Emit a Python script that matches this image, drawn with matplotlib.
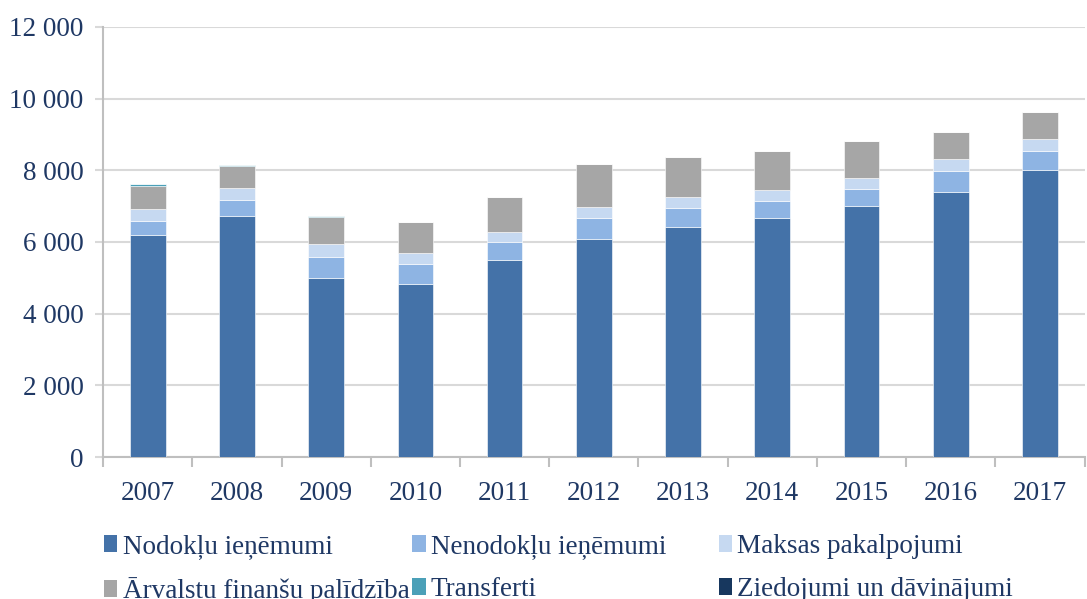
import matplotlib
matplotlib.use("Agg")
import matplotlib.pyplot as plt
import numpy as np
from matplotlib.ticker import FuncFormatter, FixedLocator
from matplotlib.patches import Patch

years = ["2007", "2008", "2009", "2010", "2011", "2012", "2013", "2014", "2015", "2016", "2017"]
nodoklu = [6195, 6734, 4995, 4836, 5498, 6084, 6427, 6678, 7005, 7404, 8009]
nenodoklu = [391, 429, 595, 542, 494, 577, 522, 466, 474, 577, 531]
maksas = [327, 335, 363, 307, 287, 307, 298, 307, 315, 335, 334]
arvalstu = [658, 614, 753, 860, 968, 1200, 1125, 1089, 1025, 754, 754]
transferti = [40, 30, 15, 10, 5, 8, 5, 5, 5, 8, 5]
ziedojumi = [10, 8, 5, 5, 3, 3, 3, 3, 3, 3, 3]

series = [
    ("Nodokļu ieņēmumi", nodoklu, "#4472A8"),
    ("Nenodokļu ieņēmumi", nenodoklu, "#8EB4E3"),
    ("Maksas pakalpojumi", maksas, "#C6D9F1"),
    ("Ārvalstu finanšu palīdzība", arvalstu, "#A6A6A6"),
    ("Transferti", transferti, "#4BA0B8"),
    ("Ziedojumi un dāvinājumi", ziedojumi, "#17375E"),
]

plt.rcParams['font.family'] = ['Liberation Serif', 'DejaVu Serif']
fs = 19.5
tcol = "#1F3864"

fig = plt.figure(figsize=(10.87, 5.99), dpi=100)
ax = fig.add_axes([0.0948, 0.237, 0.903, 0.718])

x = np.arange(len(years))
bottom = np.zeros(len(years))
handles = []
for name, vals, col in series:
    v = np.array(vals, dtype=float)
    ax.bar(x, v, bottom=bottom, width=0.40, color=col, edgecolor="white", linewidth=0.4, zorder=3)
    bottom += v
    handles.append(Patch(facecolor=col, label=name))

ax.set_xlim(-0.5, len(years) - 0.5)
ax.set_ylim(0, 12000)
ax.set_yticks(np.arange(0, 12001, 2000))
ax.yaxis.set_major_formatter(FuncFormatter(lambda v, p: f"{int(v):,}".replace(",", " ")))
ax.grid(axis="y", color="#d9d9d9", linewidth=1.5, zorder=0)
ax.set_xticks(x)
ax.set_xticklabels(years)
ax.xaxis.set_minor_locator(FixedLocator(np.arange(-0.5, len(years), 1.0)))
ax.tick_params(axis="x", which="major", length=0, pad=17, labelsize=fs, labelcolor=tcol)
ax.tick_params(axis="x", which="minor", length=7, color="#bfbfbf", width=1.5)
ax.tick_params(axis="y", length=6, color="#d9d9d9", width=1.5, pad=8, labelsize=fs, labelcolor=tcol)
for s in ["top", "right"]:
    ax.spines[s].set_visible(False)
ax.spines["left"].set_color("#bfbfbf")
ax.spines["left"].set_linewidth(1.5)
ax.spines["bottom"].set_color("#bfbfbf")
ax.spines["bottom"].set_linewidth(1.5)

col_x = [0.0955, 0.379, 0.661]
for i, cx in enumerate(col_x):
    leg = fig.legend(handles=[handles[i], handles[i + 3]], loc="upper left",
                     bbox_to_anchor=(cx, 0.108), frameon=False, fontsize=fs,
                     handlelength=0.5, handleheight=0.6, handletextpad=0.2,
                     labelspacing=0.66, borderaxespad=0, borderpad=0)
    for t in leg.get_texts():
        t.set_color(tcol)

fig.savefig("out.png", dpi=100)
